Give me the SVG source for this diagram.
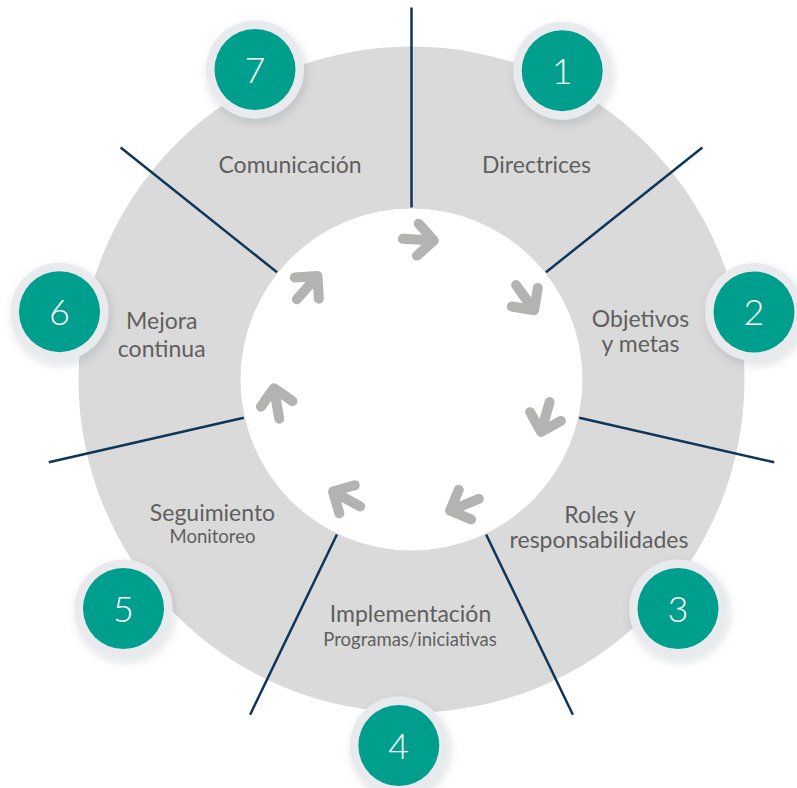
<svg xmlns="http://www.w3.org/2000/svg" width="797" height="788" viewBox="0 0 797 788">
  <defs>
    <filter id="sh" x="-40%" y="-40%" width="180%" height="180%">
      <feDropShadow dx="2" dy="4" stdDeviation="5" flood-color="#1a2030" flood-opacity="0.14"/>
    </filter>
    <path id="arr" d="M-16,0 H15 M-1,-16 L15,0 L-1,16"/>
  </defs>
  <style>
    .ring{fill:#dadada}
    .hole{fill:#ffffff}
    .sep{stroke:#0f3659;stroke-width:2.5;fill:none}
    .arw{stroke:#b3b3b2;stroke-width:10;fill:none;stroke-linecap:round;stroke-linejoin:round}
    .halo{fill:#e9eaee;filter:url(#sh)}
    .badge{fill:#009e8d}
    .num{font-family:Lato,"Liberation Sans",sans-serif;font-weight:300;font-size:36px;fill:#ffffff;text-anchor:middle}
    .lbl{font-family:Lato,"Liberation Sans",sans-serif;font-size:23px;fill:#5f5f5f;text-anchor:middle}
    .sub{font-family:Lato,"Liberation Sans",sans-serif;font-size:18.5px;fill:#5f5f5f;text-anchor:middle}
  </style>
  <rect width="797" height="788" fill="#ffffff"/>
  <circle class="ring" cx="411.5" cy="379.5" r="333"/>
  <circle class="hole" cx="411.5" cy="379.5" r="171"/>

  <g id="connectors">
    <g transform="translate(411.5 379.5)">
      <line class="sep" x1="0" y1="-172" x2="0" y2="-372" transform="rotate(0)"/>
      <line class="sep" x1="0" y1="-172" x2="0" y2="-372" transform="rotate(51.43)"/>
      <line class="sep" x1="0" y1="-172" x2="0" y2="-372" transform="rotate(102.86)"/>
      <line class="sep" x1="0" y1="-172" x2="0" y2="-372" transform="rotate(154.29)"/>
      <line class="sep" x1="0" y1="-172" x2="0" y2="-372" transform="rotate(205.71)"/>
      <line class="sep" x1="0" y1="-172" x2="0" y2="-372" transform="rotate(257.14)"/>
      <line class="sep" x1="0" y1="-172" x2="0" y2="-372" transform="rotate(308.57)"/>
      <use href="#arr" class="arw" transform="rotate(3) translate(0 -140)"/>
      <use href="#arr" class="arw" transform="rotate(54.43) translate(0 -140)"/>
      <use href="#arr" class="arw" transform="rotate(105.86) translate(0 -139)"/>
      <use href="#arr" class="arw" transform="rotate(157.29) translate(0 -136)"/>
      <use href="#arr" class="arw" transform="rotate(208.71) translate(0 -136)"/>
      <use href="#arr" class="arw" transform="rotate(260.14) translate(0 -137)"/>
      <use href="#arr" class="arw" transform="rotate(311.57) translate(0 -139)"/>
    </g>
  </g>

  <g id="node-1">
    <circle class="halo" cx="562.2" cy="70.7" r="49"/>
    <circle class="badge" cx="562.2" cy="70.7" r="40.5"/>
    <text class="num" x="562.2" y="83.5">1</text>
    <text class="lbl" x="536.5" y="173.3">Directrices</text>
  </g>
  <g id="node-2">
    <circle class="halo" cx="754" cy="312" r="49"/>
    <circle class="badge" cx="754" cy="312" r="40.5"/>
    <text class="num" x="754" y="325">2</text>
    <text class="lbl" x="640.5" y="327">Objetivos</text>
    <text class="lbl" x="640.5" y="352">y metas</text>
  </g>
  <g id="node-3">
    <circle class="halo" cx="678" cy="608.5" r="49"/>
    <circle class="badge" cx="678" cy="608.5" r="40.5"/>
    <text class="num" x="678" y="621.5">3</text>
    <text class="lbl" x="600" y="522.7">Roles y</text>
    <text class="lbl" x="599" y="548.3">responsabilidades</text>
  </g>
  <g id="node-4">
    <circle class="halo" cx="398.8" cy="745.5" r="49"/>
    <circle class="badge" cx="398.8" cy="745.5" r="40.5"/>
    <text class="num" x="398.8" y="758.5">4</text>
    <text class="lbl" x="410.5" y="622">Implementación</text>
    <text class="sub" x="410" y="646">Programas/iniciativas</text>
  </g>
  <g id="node-5">
    <circle class="halo" cx="123.5" cy="608.5" r="49"/>
    <circle class="badge" cx="123.5" cy="608.5" r="40.5"/>
    <text class="num" x="123.5" y="621.5">5</text>
    <text class="lbl" x="212.5" y="520.7">Seguimiento</text>
    <text class="sub" x="212.5" y="542.7">Monitoreo</text>
  </g>
  <g id="node-6">
    <circle class="halo" cx="59.5" cy="311.7" r="49"/>
    <circle class="badge" cx="59.5" cy="311.7" r="40.5"/>
    <text class="num" x="59.5" y="324.7">6</text>
    <text class="lbl" x="161.7" y="329">Mejora</text>
    <text class="lbl" x="161.7" y="356.7">continua</text>
  </g>
  <g id="node-7">
    <circle class="halo" cx="255" cy="69.5" r="49"/>
    <circle class="badge" cx="255" cy="69.5" r="40.5"/>
    <text class="num" x="255" y="82.5">7</text>
    <text class="lbl" x="290" y="173.3">Comunicación</text>
  </g>
</svg>
